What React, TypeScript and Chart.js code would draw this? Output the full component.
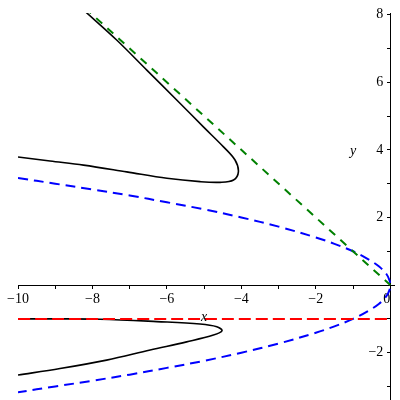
import React, { useEffect, useRef } from "react";
import { Chart, registerables } from "chart.js";

Chart.register(...registerables);

// Axis ticks
const X_TICKS = [-10, -9, -8, -7, -6, -5, -4, -3, -2, -1, 0];
const X_LABELED = [-10, -8, -6, -4, -2, 0];
const Y_TICKS = [-3, -2, -1, 0, 1, 2, 3, 4, 5, 6, 7, 8];
const Y_LABELED = [-2, 2, 4, 6, 8];

// Black curve, upper branch
const upperX = [-8.2, -7.35, -6.54, -5.73, -5.02, -4.48, -4.17, -4.08, -4.21, -4.57, -5.11, -6.0, -7.08, -8.24, -9.14, -10];
const upperY = [8.1, 7.25, 6.36, 5.47, 4.68, 4.09, 3.7, 3.35, 3.11, 3.04, 3.06, 3.16, 3.35, 3.55, 3.67, 3.79];

// Black curve, lower branch
const lowerX = [-10, -9, -7.8, -6.27, -5.11, -4.66, -4.52, -4.75, -5.47, -6.45, -7.62, -8.87, -10];
const lowerY = [-1.0, -1.0, -1.01, -1.08, -1.15, -1.23, -1.35, -1.48, -1.68, -1.92, -2.22, -2.47, -2.66];

// Green dashed line
const greenX = [-8.2, 0];
const greenY = [8.2, 0];

// Red dashed line
const redX = [-10, 0];
const redY = [-1, -1];

// Blue dashed curve
const blueX = [-10, -9, -8, -7, -6, -5, -4, -3, -2, -1.5, -1, -0.6, -0.3, -0.1, -0.02, 0, -0.02, -0.1, -0.3, -0.6, -1, -1.5, -2, -3, -4, -5, -6, -7, -8, -9, -10];
const blueY = [3.17, 3.0, 2.83, 2.65, 2.45, 2.24, 2.0, 1.73, 1.41, 1.22, 1.0, 0.77, 0.55, 0.32, 0.14, 0, -0.14, -0.32, -0.55, -0.77, -1.0, -1.22, -1.41, -1.73, -2.0, -2.24, -2.45, -2.65, -2.83, -3.0, -3.17];

const zip = (xs: number[], ys: number[]) => xs.map((x, i) => ({ x, y: ys[i] }));
const fmt = (v: number) => (v < 0 ? "\u2212" + Math.abs(v) : String(v));

const axisTitles = {
  id: "axisTitles",
  afterDraw(chart: any) {
    const { ctx, scales } = chart;
    const xs = scales.x;
    const ys = scales.y;
    ctx.save();
    ctx.font = 'italic 14px "Liberation Serif"';
    ctx.fillStyle = "#000";
    ctx.textAlign = "center";
    ctx.textBaseline = "middle";
    ctx.fillText("x", xs.getPixelForValue(-5.0), ys.getPixelForValue(-0.95));
    ctx.fillText("y", xs.getPixelForValue(-1.0), ys.getPixelForValue(3.95));
    ctx.restore();
  },
};

export default function App() {
  const ref = useRef<HTMLCanvasElement | null>(null);
  useEffect(() => {
    if (!ref.current) return;
    const line = (data: any, color: string, width: number, dash: number[]) => ({
      data,
      borderColor: color,
      backgroundColor: color,
      borderWidth: width,
      borderDash: dash,
      pointRadius: 0,
      showLine: true,
      fill: false,
      tension: 0.35,
    });
    const chart = new Chart(ref.current, {
      type: "scatter",
      data: {
        datasets: [
          line(zip(redX, redY), "#ff0000", 2, [12, 5]),
          line(zip(greenX, greenY), "#008000", 2, [8, 7]),
          line(zip(blueX, blueY), "#0000ff", 2, [10, 6]),
          line(zip(upperX, upperY), "#000000", 1.6, []),
          line(zip(lowerX, lowerY), "#000000", 1.6, []),
        ],
      },
      options: {
        animation: false,
        responsive: false,
        layout: { padding: { left: 18, right: 6, top: 13, bottom: 0 } },
        plugins: { legend: { display: false }, tooltip: { enabled: false } },
        scales: {
          x: {
            type: "linear",
            min: -10,
            max: 0.1,
            position: { y: 0 } as any,
            afterBuildTicks: (s: any) => {
              s.ticks = X_TICKS.map((v) => ({ value: v }));
            },
            afterFit: (s: any) => {
              s.height = 0;
              s.paddingLeft = 0;
              s.paddingRight = 0;
            },
            grid: { display: true, drawOnChartArea: false, drawTicks: true, tickLength: 3, color: "#000" },
            border: { display: true, color: "#000", width: 1 },
            ticks: {
              autoSkip: false,
              maxRotation: 0,
              padding: 3,
              color: "#000",
              font: { family: '"Liberation Serif"', size: 14 },
              callback: (v: any) => {
                const n = Number(v);
                if (!X_LABELED.includes(n)) return "";
                return n === 0 ? "0\u2002" : fmt(n);
              },
            },
          },
          y: {
            type: "linear",
            min: -3.4,
            max: 8.05,
            position: { x: 0 } as any,
            afterBuildTicks: (s: any) => {
              s.ticks = Y_TICKS.map((v) => ({ value: v }));
            },
            afterFit: (s: any) => {
              s.width = 0;
              s.paddingTop = 0;
              s.paddingBottom = 0;
            },
            grid: { display: true, drawOnChartArea: false, drawTicks: true, tickLength: 3, color: "#000" },
            border: { display: true, color: "#000", width: 1 },
            ticks: {
              autoSkip: false,
              padding: 4,
              color: "#000",
              font: { family: '"Liberation Serif"', size: 14 },
              callback: (v: any) => {
                const n = Number(v);
                return Y_LABELED.includes(n) ? fmt(n) + "\u2002" : "";
              },
            },
          },
        },
      },
      plugins: [axisTitles],
    });
    return () => chart.destroy();
  }, []);
  return (
    <div style={{ position: "fixed", left: 0, top: 0, width: 400, height: 400, background: "#fff" }}>
      <canvas ref={ref} width={400} height={400} style={{ display: "block" }} />
    </div>
  );
}
